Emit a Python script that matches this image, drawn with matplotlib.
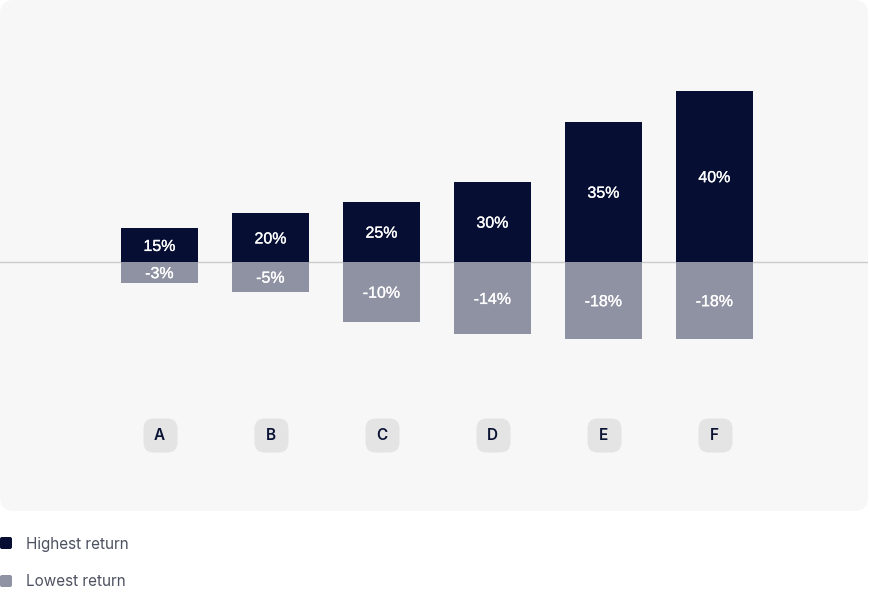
import matplotlib
matplotlib.use('Agg')
import matplotlib.pyplot as plt
import matplotlib.patheffects as pe
from matplotlib.patches import FancyBboxPatch
from matplotlib.markers import MarkerStyle

# ---------------- data (bar heights) ----------------
categories = ['A', 'B', 'C', 'D', 'E', 'F']
highest_height = [33.7, 48.7, 60.3, 80.3, 140.3, 171.3]
lowest_height = [-20.7, -29.7, -59.7, -72.3, -76.7, -76.7]
highest_labels = ['15%', '20%', '25%', '30%', '35%', '40%']
lowest_labels = ['-3%', '-5%', '-10%', '-14%', '-18%', '-18%']
legend_names = ['Highest return', 'Lowest return']

NAVY = '#060f33'
GREY = '#8e92a3'
PANEL = '#f7f7f7'
PILL = '#e4e4e4'

W, H = 869, 594
fig = plt.figure(figsize=(W / 100, H / 100), dpi=100)
fig.patch.set_facecolor('white')

# background layer in pixel units (panel + legend)
bg = fig.add_axes([0, 0, 1, 1])
bg.set_xlim(0, W)
bg.set_ylim(H, 0)
bg.axis('off')
bg.add_patch(FancyBboxPatch((0, 0), 868, 511,
                            boxstyle='round,pad=0,rounding_size=14',
                            fc=PANEL, ec='none'))

for k, (name, col) in enumerate(zip(legend_names, [NAVY, GREY])):
    base = 548.5 + 38 * k
    bg.add_patch(FancyBboxPatch((0, base - 11.5), 12, 12,
                                boxstyle='round,pad=0,rounding_size=2',
                                fc=col, ec='none'))
    bg.text(26, base, name, fontsize=11, color='#4d5160', family='Inter',
            va='baseline', ha='left')

# ---------------- chart ----------------
ax = fig.add_axes([0, 83 / H, 868 / W, 511 / H])
ax.patch.set_alpha(0)
ax.axis('off')
ax.set_xlim(-159.5 / 111, (868 - 159.5) / 111)
ax.set_ylim(-249, 262)

x = list(range(len(categories)))
ax.axhline(0, color='#cbcbcb', lw=1, zorder=1)
ax.bar(x, highest_height, width=77 / 111, color=NAVY, zorder=2)
ax.bar(x, lowest_height, width=77 / 111, color=GREY, zorder=2)

# value labels, baseline half a cap-height under the bar middle
heavier = [pe.withStroke(linewidth=0.2, foreground='white')]
for i in x:
    ax.text(i, highest_height[i] / 2 - 5.8, highest_labels[i], color='white',
            fontsize=11.5, family='Liberation Sans', ha='center',
            va='baseline', zorder=3, path_effects=heavier)
    ax.text(i, lowest_height[i] / 2 - 5.8, lowest_labels[i], color='white',
            fontsize=11.5, family='Liberation Sans', ha='center',
            va='baseline', zorder=3, path_effects=heavier)

# rounded-square "pills" for category names
rr = FancyBboxPatch((-0.5, -0.5), 1, 1,
                    boxstyle='round,pad=0,rounding_size=0.3').get_path()
pill_y = [-173] * len(categories)
ax.scatter(x, pill_y, marker=MarkerStyle(rr), s=(34 * 0.72) ** 2,
           c=PILL, linewidths=0, zorder=2)
for i, c in enumerate(categories):
    ax.text(i, pill_y[i] - 5.5, c, color='#0b1334', fontsize=11,
            family='Inter', fontweight='semibold', ha='center',
            va='baseline', zorder=3)

fig.savefig('out.png', dpi=100)
